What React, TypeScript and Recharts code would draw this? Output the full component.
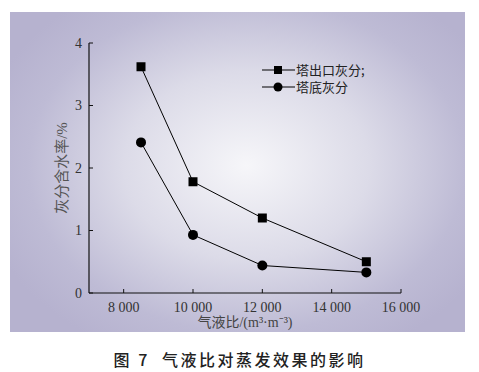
import React from "react";
import { Legend, Line, LineChart, XAxis, YAxis } from "recharts";

// 气液比 (m³/m³)
const ratios = [8500, 10000, 12000, 15000];
// 塔出口灰分含水率 / %
const outletAsh = [3.62, 1.78, 1.2, 0.5];
// 塔底灰分含水率 / %
const bottomAsh = [2.41, 0.93, 0.44, 0.33];

const xTicks = [8000, 10000, 12000, 14000, 16000];
const yTicks = [0, 1, 2, 3, 4];

const data = ratios.map((r, i) => ({
  ratio: r,
  outlet: outletAsh[i],
  bottom: bottomAsh[i],
}));

const SERIF = '"Liberation Serif", "Noto Sans CJK SC", serif';
const CJK = '"Noto Sans CJK SC", sans-serif';

const fmt = (v: number) => {
  const s = String(v);
  return s.length > 3 ? `${s.slice(0, -3)} ${s.slice(-3)}` : s;
};

const SquareDot = (p: any) => (
  <rect key={p.key ?? `s${p.index}`} x={p.cx - 4.5} y={p.cy - 4.5} width={9} height={9} fill="#000" />
);
const CircleDot = (p: any) => (
  <circle key={p.key ?? `c${p.index}`} cx={p.cx} cy={p.cy} r={5} fill="#000" />
);

const LegendBox = ({ payload }: any) => (
  <div style={{ fontFamily: CJK, fontSize: 13, color: "#222" }}>
    {(payload || []).map((e: any) => (
      <div key={e.value} style={{ display: "flex", alignItems: "center", height: 17 }}>
        <svg width={33} height={12} style={{ marginRight: 1 }}>
          <line x1={0} y1={6} x2={33} y2={6} stroke="#000" strokeWidth={1.2} />
          {e.dataKey === "outlet" ? (
            <rect x={12} y={2} width={8} height={8} fill="#000" />
          ) : (
            <circle cx={16} cy={6} r={4.5} fill="#000" />
          )}
        </svg>
        <span style={{ lineHeight: "14px" }}>{e.value}</span>
      </div>
    ))}
  </div>
);

export default function App() {
  return (
    <div style={{ position: "absolute", left: 0, top: 0, width: 479, height: 372, background: "#fff" }}>
      <div
        style={{
          position: "absolute",
          left: 10,
          top: 12,
          width: 455,
          height: 320,
          background:
            "radial-gradient(ellipse 60% 65% at 52% 48%, #f6f6f9 0%, #dcdbe8 45%, #bebbd5 80%, #b6b2cf 100%)",
        }}
      />
      <div style={{ position: "absolute", left: 0, top: 0 }}>
        <LineChart
          width={479}
          height={372}
          data={data}
          margin={{ top: 43, right: 78, bottom: 49, left: 0 }}
          style={{ fontFamily: SERIF }}
        >
          <XAxis
            dataKey="ratio"
            type="number"
            domain={[7000, 16000]}
            ticks={xTicks}
            tickFormatter={fmt}
            height={30}
            tickSize={-4}
            tickMargin={13}
            axisLine={{ stroke: "#111", strokeWidth: 1.2 }}
            tickLine={{ stroke: "#111", strokeWidth: 1 }}
            tick={{ fill: "#333", fontSize: 14, fontFamily: SERIF, style: { fontFamily: SERIF } }}
            label={{
              value: "气液比/(m³·m⁻³)",
              position: "insideBottom",
              offset: -4,
              fill: "#444",
              fontSize: 14,
              fontFamily: SERIF,
              style: { fontFamily: SERIF },
            }}
          />
          <YAxis
            type="number"
            domain={[0, 4]}
            ticks={yTicks}
            width={89}
            tickSize={-4}
            tickMargin={11}
            axisLine={{ stroke: "#111", strokeWidth: 1.2 }}
            tickLine={{ stroke: "#111", strokeWidth: 1 }}
            tick={{ fill: "#333", fontSize: 14, fontFamily: SERIF, style: { fontFamily: SERIF } }}
            label={{
              value: "灰分含水率/%",
              angle: -90,
              position: "insideLeft",
              offset: 62,
              fill: "#555",
              fontSize: 15,
              fontFamily: SERIF,
              style: { textAnchor: "middle", fontFamily: SERIF },
            }}
          />
          <Legend
            layout="vertical"
            verticalAlign="middle"
            align="center"
            content={<LegendBox />}
            wrapperStyle={{ left: 262, top: 61, width: 130 }}
          />
          <Line
            dataKey="outlet"
            name="塔出口灰分;"
            stroke="#000"
            strokeWidth={1}
            dot={SquareDot}
            isAnimationActive={false}
          />
          <Line
            dataKey="bottom"
            name="塔底灰分"
            stroke="#000"
            strokeWidth={1}
            dot={CircleDot}
            isAnimationActive={false}
          />
        </LineChart>
      </div>
      <div
        style={{
          position: "absolute",
          left: 0,
          top: 347,
          width: 479,
          textAlign: "center",
          fontFamily: CJK,
          fontSize: 16,
          fontWeight: 500,
          color: "#222",
          letterSpacing: 2.5,
        }}
      >
        图 7&nbsp;&nbsp;气液比对蒸发效果的影响
      </div>
    </div>
  );
}
